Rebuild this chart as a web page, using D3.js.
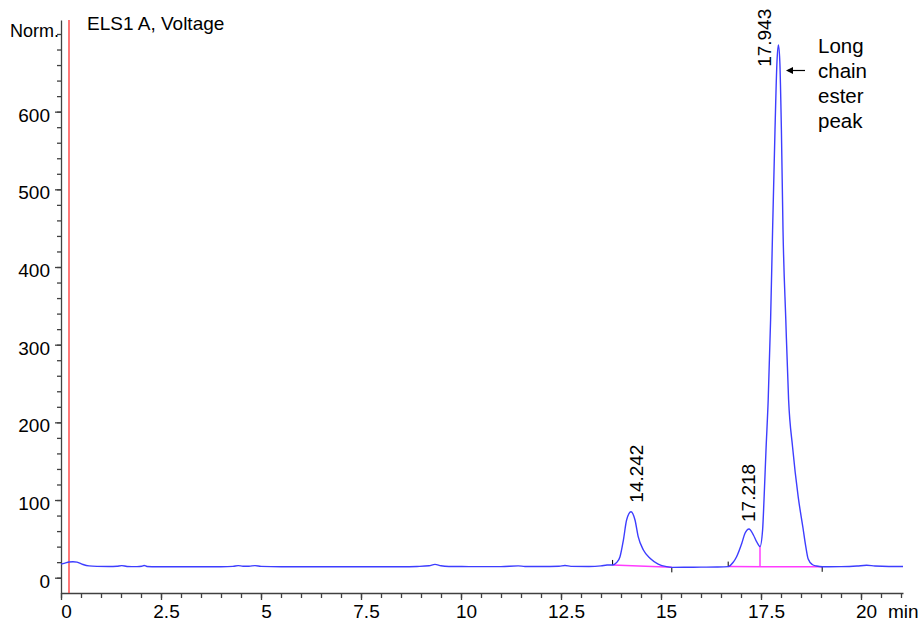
<!DOCTYPE html>
<html>
<head>
<meta charset="utf-8">
<script src="https://cdn.jsdelivr.net/npm/d3@7"></script>
<style>
  body { margin: 0; background: #fff; }
  text { font-family: Arial, "Liberation Sans", sans-serif; fill: #000; }
</style>
</head>
<body>
<div id="chart"></div>
<script>
// retention time (min) and detector signal
const times = [0.00, 0.10, 0.20, 0.30, 0.40, 0.55, 0.70, 0.90, 1.20, 1.40, 1.52, 1.65, 1.90, 2.02, 2.08, 2.15,
  2.40, 3.00, 3.50, 4.00, 4.30, 4.43, 4.55, 4.70, 4.85, 5.00, 5.50, 6.50, 7.50, 8.50, 8.90, 9.20, 9.35, 9.50,
  9.70, 10.2, 11.0, 11.43, 11.6, 12.0, 12.45, 12.60, 12.75, 13.20, 13.50, 13.65, 13.79, 13.90, 13.975, 14.06,
  14.14, 14.25, 14.35, 14.43, 14.56, 14.725, 14.93, 15.14, 15.27, 15.6, 16.0, 16.4, 16.68, 16.80, 16.89, 17.02,
  17.10, 17.20, 17.31, 17.39, 17.44, 17.475, 17.54, 17.575, 17.625, 17.68, 17.74, 17.79, 17.85, 17.90, 17.935,
  17.97, 18.01, 18.05, 18.12, 18.19, 18.29, 18.43, 18.55, 18.62, 18.68, 18.78, 18.89, 19.03, 19.5, 19.9, 20.14,
  20.35, 20.7, 21.05];
const signal = [17.5, 18.8, 20.2, 20.6, 20.0, 17.0, 15.2, 14.6, 14.4, 14.8, 15.5, 14.5, 14.2, 14.8, 15.8, 14.5,
  14.0, 14.0, 14.0, 14.1, 14.6, 15.6, 14.8, 14.8, 15.6, 14.6, 14.0, 14.0, 14.0, 14.1, 14.5, 15.3, 17.2, 15.3,
  14.5, 14.3, 14.3, 15.2, 14.5, 14.5, 14.8, 15.8, 14.6, 14.5, 15.2, 16.3, 16.4, 20.0, 27.0, 48.5,
  74.3, 85.0, 74.3, 52.8, 35.7, 25.0, 17.6, 14.2, 13.3, 13.4, 13.6, 13.8, 14.3, 19.5, 27.0, 44.3,
  57.2, 62.7, 55.0, 46.4, 42.0, 40.0, 61.4, 100, 164.5, 229, 332, 448, 576.5, 665, 686,
  665, 576.5, 448, 332, 229, 168, 104, 64, 40.0, 24.0, 17.0, 15.0, 14.0, 14.2, 15.0, 16.0,
  15.0, 14.5, 14.5];

// peaks: label, apex time, apex height
const peakLabels = ["14.242", "17.218", "17.943"];
const peakTimes = [14.242, 17.218, 17.943];
const peakHeights = [85, 62.7, 686];

// integration baselines: [start t, start v, end t, end v]
const baseStartT = [13.79, 16.68];
const baseStartV = [16.4, 14.3];
const baseEndT = [15.27, 19.03];
const baseEndV = [13.3, 14.0];
// drop line between the two late peaks
const dropT = 17.475, dropV = 40.0, dropBase = 14.1;

const injectT = 0.2;
const xMajor = [0, 2.5, 5, 7.5, 10, 12.5, 15, 17.5, 20];
const yMajor = [0, 100, 200, 300, 400, 500, 600];
const annotation = ["Long", "chain", "ester", "peak"];

const W = 921, H = 622;
const svg = d3.select("#chart").append("svg").attr("width", W).attr("height", H);

const x = d3.scaleLinear().domain([0, 21.05]).range([61, 903]);
const y = d3.scaleLinear().domain([-19.7, 718]).range([593, 20]);

const axisColor = "#404040";

// x axis: minor then major ticks
const xMinor = d3.range(0, 21.01, 0.5);
svg.append("g").attr("transform", "translate(0,593)")
  .call(d3.axisBottom(x).tickValues(xMinor).tickSize(5).tickSizeOuter(0).tickFormat(""))
  .call(g => g.selectAll("line, path").attr("stroke", axisColor).attr("stroke-width", 1.3));
svg.append("g").attr("transform", "translate(0,593)")
  .call(d3.axisBottom(x).tickValues(xMajor).tickSize(7).tickSizeOuter(0).tickFormat(d3.format("")))
  .call(g => g.select(".domain").remove())
  .call(g => g.selectAll("line").attr("stroke", axisColor).attr("stroke-width", 1.3))
  .call(g => g.selectAll("text").attr("fill", "#000").style("font-size", "19px")
    .attr("y", 25).attr("dy", 0).attr("dx", 5));
svg.append("text").attr("x", 888).attr("y", 618).style("font-size", "19px").text("min");

// y axis
const yMinor = d3.range(0, 701, 20);
svg.append("g").attr("transform", "translate(61,0)")
  .call(d3.axisLeft(y).tickValues(yMinor).tickSize(4).tickSizeOuter(0).tickFormat(""))
  .call(g => g.selectAll("line, path").attr("stroke", axisColor).attr("stroke-width", 1.3));
svg.append("g").attr("transform", "translate(61,0)")
  .call(d3.axisLeft(y).tickValues(yMajor).tickSize(6).tickSizeOuter(0))
  .call(g => g.select(".domain").remove())
  .call(g => g.selectAll("line").attr("stroke", axisColor).attr("stroke-width", 1.3))
  .call(g => g.selectAll("text").attr("fill", "#000").style("font-size", "19px")
    .attr("x", -11).attr("dy", "0.5em"));
svg.append("text").attr("x", 59).attr("y", 37).attr("text-anchor", "end")
  .style("font-size", "18px").text("Norm.");

// title
svg.append("text").attr("x", 87).attr("y", 30).style("font-size", "19px").text("ELS1 A, Voltage");

// injection marker
svg.append("line")
  .attr("x1", x(injectT)).attr("x2", x(injectT)).attr("y1", y.range()[1]).attr("y2", y.range()[0])
  .attr("stroke", "#ff3030").attr("stroke-width", 1.3);

// integration baselines
const magenta = "#ff3cff";
baseStartT.forEach((t, i) => {
  svg.append("line")
    .attr("x1", x(t)).attr("y1", y(baseStartV[i]))
    .attr("x2", x(baseEndT[i])).attr("y2", y(baseEndV[i]))
    .attr("stroke", magenta).attr("stroke-width", 1.5);
  svg.append("line")
    .attr("x1", x(t)).attr("x2", x(t)).attr("y1", y(baseStartV[i])).attr("y2", y(baseStartV[i]) - 5)
    .attr("stroke", "#000").attr("stroke-width", 1);
  svg.append("line")
    .attr("x1", x(baseEndT[i])).attr("x2", x(baseEndT[i]))
    .attr("y1", y(baseEndV[i])).attr("y2", y(baseEndV[i]) + 5)
    .attr("stroke", "#000").attr("stroke-width", 1);
});
svg.append("line")
  .attr("x1", x(dropT)).attr("x2", x(dropT)).attr("y1", y(dropBase)).attr("y2", y(dropV))
  .attr("stroke", magenta).attr("stroke-width", 1.5);

// chromatogram trace
const trace = d3.zip(times, signal);
svg.append("path")
  .datum(trace)
  .attr("fill", "none")
  .attr("stroke", "#3d3dff")
  .attr("stroke-width", 1.4)
  .attr("d", d3.line().x(d => x(d[0])).y(d => y(d[1])).curve(d3.curveMonotoneX));

// rotated peak labels
const labelNudge = [[12, -9], [5, -7], [-8, 22]];
peakLabels.forEach((lab, i) => {
  const px = x(peakTimes[i]) + labelNudge[i][0];
  const py = y(peakHeights[i]) + labelNudge[i][1];
  svg.append("text")
    .attr("transform", `translate(${px},${py}) rotate(-90)`)
    .style("font-size", "19px")
    .text(lab);
});

// annotation with arrow pointing at the main peak
const arrowY = 70.5;
svg.append("line").attr("x1", 805).attr("x2", 788).attr("y1", arrowY).attr("y2", arrowY)
  .attr("stroke", "#000").attr("stroke-width", 1.2);
svg.append("path").attr("d", `M786,${arrowY} l7,-3.5 l0,7 z`).attr("fill", "#000");
svg.append("text").attr("x", 818).attr("y", 53).style("font-size", "20.5px")
  .selectAll("tspan").data(annotation).join("tspan")
  .attr("x", 818).attr("dy", (d, i) => i ? 25 : 0)
  .text(d => d);
</script>
</body>
</html>
